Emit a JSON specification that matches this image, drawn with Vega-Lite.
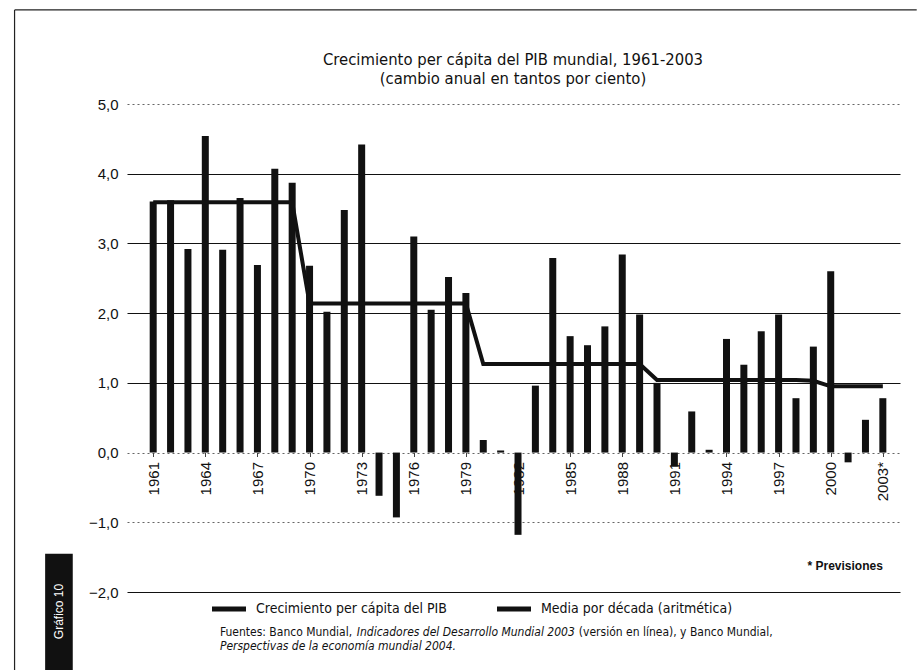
{
  "$schema": "https://vega.github.io/schema/vega-lite/v6.json",
  "width": 773,
  "height": 488,
  "autosize": {"type": "none"},
  "padding": {"left": 127, "top": 104, "right": 22, "bottom": 78},
  "background": "white",
  "config": {
    "view": {"stroke": null},
    "font": "Liberation Sans",
    "text": {"color": "#111"}
  },
  "data": {
    "values": [
      {"year": 1961, "value": 3.60, "media": 3.59},
      {"year": 1962, "value": 3.62, "media": 3.59},
      {"year": 1963, "value": 2.92, "media": 3.59},
      {"year": 1964, "value": 4.54, "media": 3.59},
      {"year": 1965, "value": 2.91, "media": 3.59},
      {"year": 1966, "value": 3.65, "media": 3.59},
      {"year": 1967, "value": 2.69, "media": 3.59},
      {"year": 1968, "value": 4.07, "media": 3.59},
      {"year": 1969, "value": 3.87, "media": 3.59},
      {"year": 1970, "value": 2.68, "media": 2.14},
      {"year": 1971, "value": 2.02, "media": 2.14},
      {"year": 1972, "value": 3.48, "media": 2.14},
      {"year": 1973, "value": 4.42, "media": 2.14},
      {"year": 1974, "value": -0.62, "media": 2.14},
      {"year": 1975, "value": -0.93, "media": 2.14},
      {"year": 1976, "value": 3.10, "media": 2.14},
      {"year": 1977, "value": 2.05, "media": 2.14},
      {"year": 1978, "value": 2.52, "media": 2.14},
      {"year": 1979, "value": 2.29, "media": 2.14},
      {"year": 1980, "value": 0.18, "media": 1.27},
      {"year": 1981, "value": 0.03, "media": 1.27},
      {"year": 1982, "value": -1.18, "media": 1.27},
      {"year": 1983, "value": 0.96, "media": 1.27},
      {"year": 1984, "value": 2.79, "media": 1.27},
      {"year": 1985, "value": 1.67, "media": 1.27},
      {"year": 1986, "value": 1.54, "media": 1.27},
      {"year": 1987, "value": 1.81, "media": 1.27},
      {"year": 1988, "value": 2.84, "media": 1.27},
      {"year": 1989, "value": 1.98, "media": 1.27},
      {"year": 1990, "value": 1.00, "media": 1.04},
      {"year": 1991, "value": -0.20, "media": 1.04},
      {"year": 1992, "value": 0.59, "media": 1.04},
      {"year": 1993, "value": 0.04, "media": 1.04},
      {"year": 1994, "value": 1.63, "media": 1.04},
      {"year": 1995, "value": 1.26, "media": 1.04},
      {"year": 1996, "value": 1.74, "media": 1.04},
      {"year": 1997, "value": 1.98, "media": 1.04},
      {"year": 1998, "value": 0.78, "media": 1.04},
      {"year": 1999, "value": 1.52, "media": 1.03},
      {"year": 2000, "value": 2.60, "media": 0.95},
      {"year": 2001, "value": -0.14, "media": 0.95},
      {"year": 2002, "value": 0.47, "media": 0.95},
      {"year": 2003, "value": 0.78, "media": 0.95}
    ]
  },
  "layer": [
    {
      "mark": {"type": "bar", "size": 7},
      "encoding": {
        "x": {
          "field": "year",
          "type": "quantitative",
          "scale": {"domain": [1959.78, 2003.7], "nice": false, "zero": false},
          "axis": {
            "title": null,
            "values": [1961, 1964, 1967, 1970, 1973, 1976, 1979, 1982, 1985, 1988, 1991, 1994, 1997, 2000, 2003],
            "offset": -139.5,
            "domain": false,
            "grid": false,
            "ticks": true,
            "tickSize": 4,
            "tickColor": "#444",
            "labelAngle": 270,
            "labelAlign": "right",
            "labelBaseline": "middle",
            "labelPadding": 5,
            "labelFontSize": 15,
            "labelColor": "#111",
            "labelFlush": false,
            "labelOverlap": false,
            "labelExpr": "datum.value == 2003 ? '2003*' : '' + datum.value"
          }
        },
        "y": {
          "field": "value",
          "type": "quantitative",
          "scale": {"domain": [-2, 5], "nice": false},
          "axis": {
            "title": null,
            "values": [-2, -1, 0, 1, 2, 3, 4, 5],
            "domain": false,
            "ticks": false,
            "labelPadding": 9,
            "labelFontSize": 15,
            "labelColor": "#111",
            "labelExpr": "replace(format(datum.value, '.1f'), '.', ',')",
            "grid": true,
            "gridColor": {"condition": {"test": "datum.value == 5 || datum.value == -1 || datum.value == 0", "value": "#666"}, "value": "#111"},
            "gridDash": {"condition": {"test": "datum.value == 5 || datum.value == -1 || datum.value == 0", "value": [2, 3]}, "value": []},
            "gridWidth": 1.2,
            "gridOpacity": 1
          }
        },
        "color": {
          "datum": "Crecimiento per cápita del PIB",
          "type": "nominal",
          "scale": {"domain": ["Crecimiento per cápita del PIB", "Media por década (aritmética)"], "range": ["#111", "#111"]},
          "legend": {
            "orient": "none",
            "legendX": 85,
            "legendY": 488,
            "direction": "horizontal",
            "title": null,
            "symbolType": "M-1,-0.15H1V0.15H-1Z",
            "symbolSize": 1156,
            "labelFont": "Liberation Sans Narrow, DejaVu Sans Condensed, Liberation Sans",
            "labelFontSize": 14,
            "labelColor": "#111",
            "labelOffset": 10,
            "labelLimit": 0,
            "columnPadding": 50,
            "encode": {"symbols": {"update": {"fill": {"value": "#111"}, "stroke": {"value": "#111"}, "strokeWidth": {"value": 0}, "opacity": {"value": 1}}}}
          }
        }
      }
    },
    {
      "mark": {"type": "line", "strokeWidth": 4, "strokeJoin": "miter"},
      "encoding": {
        "x": {"field": "year", "type": "quantitative"},
        "y": {"field": "media", "type": "quantitative"},
        "color": {"datum": "Media por década (aritmética)", "type": "nominal"}
      }
    },
    {
      "data": {"values": [{}]},
      "mark": {"type": "text", "align": "center", "baseline": "middle", "fontSize": 16.5, "font": "Liberation Sans Narrow, DejaVu Sans Condensed, Liberation Sans", "color": "#111"},
      "encoding": {"x": {"datum": 1981.71}, "y": {"datum": 5.63}, "text": {"value": "Crecimiento per cápita del PIB mundial, 1961-2003"}}
    },
    {
      "data": {"values": [{}]},
      "mark": {"type": "text", "align": "center", "baseline": "middle", "fontSize": 16.5, "font": "Liberation Sans Narrow, DejaVu Sans Condensed, Liberation Sans", "color": "#111"},
      "encoding": {"x": {"datum": 1981.71}, "y": {"datum": 5.36}, "text": {"value": "(cambio anual en tantos por ciento)"}}
    },
    {
      "data": {"values": [{}]},
      "mark": {"type": "text", "align": "right", "baseline": "middle", "fontSize": 12, "fontWeight": "bold", "color": "#111"},
      "encoding": {"x": {"datum": 2003}, "y": {"datum": -1.63}, "text": {"value": "* Previsiones"}}
    },
    {
      "data": {"values": [{}]},
      "mark": {"type": "text", "align": "left", "baseline": "middle", "fontSize": 12, "font": "Liberation Sans Narrow, DejaVu Sans Condensed, Liberation Sans", "color": "#111"},
      "encoding": {"x": {"datum": 1964.84}, "y": {"datum": -2.58}, "text": {"value": "Fuentes: Banco Mundial,"}}
    },
    {
      "data": {"values": [{}]},
      "mark": {"type": "text", "align": "left", "baseline": "middle", "fontSize": 12, "fontStyle": "italic", "font": "Liberation Sans Narrow, DejaVu Sans Condensed, Liberation Sans", "color": "#111"},
      "encoding": {"x": {"datum": 1972.72}, "y": {"datum": -2.58}, "text": {"value": "Indicadores del Desarrollo Mundial 2003"}}
    },
    {
      "data": {"values": [{}]},
      "mark": {"type": "text", "align": "left", "baseline": "middle", "fontSize": 12, "font": "Liberation Sans Narrow, DejaVu Sans Condensed, Liberation Sans", "color": "#111"},
      "encoding": {"x": {"datum": 1985.5}, "y": {"datum": -2.58}, "text": {"value": "(versión en línea), y Banco Mundial,"}}
    },
    {
      "data": {"values": [{}]},
      "mark": {"type": "text", "align": "left", "baseline": "middle", "fontSize": 12, "fontStyle": "italic", "font": "Liberation Sans Narrow, DejaVu Sans Condensed, Liberation Sans", "color": "#111"},
      "encoding": {"x": {"datum": 1964.84}, "y": {"datum": -2.78}, "text": {"value": "Perspectivas de la economía mundial 2004."}}
    },
    {
      "data": {"values": [{}]},
      "mark": {"type": "rect", "color": "#111"},
      "encoding": {"x": {"datum": 1954.78}, "x2": {"datum": 1956.37}, "y": {"datum": -1.45}, "y2": {"datum": -3.2}}
    },
    {
      "data": {"values": [{}]},
      "mark": {"type": "text", "align": "center", "baseline": "middle", "angle": 270, "fontSize": 12, "color": "white"},
      "encoding": {"x": {"datum": 1955.57}, "y": {"datum": -2.28}, "text": {"value": "Gráfico 10"}}
    },
    {
      "data": {"values": [{}]},
      "mark": {"type": "rule", "color": "#222", "strokeWidth": 1.2},
      "encoding": {"x": {"datum": 1953.02}, "x2": {"datum": 2004.95}, "y": {"datum": 6.35}}
    },
    {
      "data": {"values": [{}]},
      "mark": {"type": "rule", "color": "#222", "strokeWidth": 1.2},
      "encoding": {"x": {"datum": 1953.02}, "y": {"datum": 6.35}, "y2": {"datum": -3.2}}
    }
  ]
}
